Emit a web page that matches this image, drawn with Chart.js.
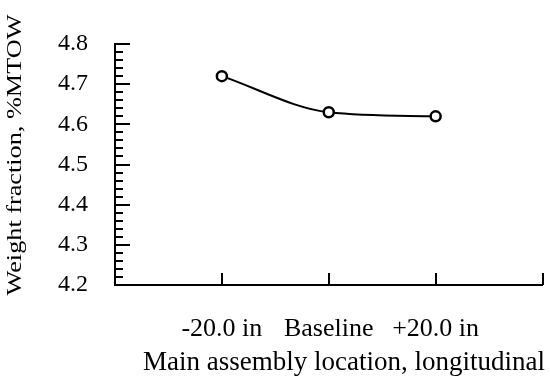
<!DOCTYPE html>
<html>
<head>
<meta charset="utf-8">
<script src="https://cdn.jsdelivr.net/npm/chart.js@4.4.1/dist/chart.umd.min.js"></script>
<style>
  html, body { margin: 0; padding: 0; background: #fff; }
  #wrap { width: 550px; height: 379px; }
</style>
</head>
<body>
<div id="wrap"><canvas id="chart" width="550" height="379"></canvas></div>
<script>
// Category slots: an empty slot at each end keeps the markers off the axis ends
const categories = ['', '-20.0 in', 'Baseline', '+20.0 in', ''];
const weightFraction = [null, 4.72, 4.63, 4.62, null];

const yMin = 4.2;
const yMax = 4.8;
const yMajorStep = 0.1;
const yMinorStep = 0.02;

const xTitle = 'Main assembly location, longitudinal';
const yTitle = 'Weight fraction, %MTOW';

const SERIF = "'Liberation Serif', 'Times New Roman', serif";

// Inward-pointing tick marks and the two axis titles
const axisDecor = {
  id: 'axisDecor',
  afterDraw(chart) {
    const { ctx, scales: { x, y }, chartArea } = chart;
    ctx.save();
    ctx.strokeStyle = '#000';
    ctx.lineWidth = 2;
    ctx.beginPath();
    const nMinor = Math.round((yMax - yMin) / yMinorStep);
    const perMajor = Math.round(yMajorStep / yMinorStep);
    for (let k = 1; k <= nMinor; k++) {
      const py = Math.round(y.getPixelForValue(yMin + k * yMinorStep));
      const len = (k % perMajor === 0) ? 15 : 8;
      ctx.moveTo(chartArea.left, py);
      ctx.lineTo(chartArea.left + len, py);
    }
    for (let i = 1; i < categories.length; i++) {
      const px = Math.round(x.getPixelForValue(i));
      ctx.moveTo(px, chartArea.bottom);
      ctx.lineTo(px, chartArea.bottom - 12);
    }
    ctx.stroke();

    ctx.fillStyle = '#000';
    // horizontal axis title
    ctx.font = '27px ' + SERIF;
    ctx.textAlign = 'center';
    ctx.textBaseline = 'alphabetic';
    ctx.fillText(xTitle, 344, 370);

    // vertical axis title, reading bottom to top
    ctx.translate(21, 155);
    ctx.rotate(-Math.PI / 2);
    ctx.scale(1.25, 1);
    ctx.font = '21px ' + SERIF;
    ctx.fillText(yTitle, 0, 0);
    ctx.restore();
  }
};

new Chart(document.getElementById('chart'), {
  type: 'line',
  data: {
    labels: categories,
    datasets: [{
      data: weightFraction,
      borderColor: '#000',
      borderWidth: 2,
      cubicInterpolationMode: 'monotone',
      pointRadius: 5,
      pointHoverRadius: 5,
      pointBorderWidth: 2.5,
      pointBorderColor: '#000',
      pointBackgroundColor: '#fff',
      clip: false
    }]
  },
  options: {
    responsive: false,
    devicePixelRatio: 1,
    animation: false,
    events: [],
    layout: { padding: { top: 44, right: 4, left: 0, bottom: 0 } },
    plugins: { legend: { display: false }, tooltip: { enabled: false } },
    scales: {
      x: {
        type: 'category',
        offset: false,
        grid: { display: false, drawTicks: false },
        border: { display: true, color: '#000', width: 2 },
        ticks: {
          autoSkip: false,
          maxRotation: 0,
          color: '#000',
          padding: 29,
          font: { family: SERIF, size: 26 }
        },
        afterFit(s) {
          s.height = 94;
          s.paddingLeft = 0;
          s.paddingRight = 0;
        }
      },
      y: {
        min: yMin,
        max: yMax,
        grid: { display: false, drawTicks: false },
        border: { display: true, color: '#000', width: 2 },
        ticks: {
          stepSize: yMajorStep,
          color: '#000',
          padding: 27,
          font: { family: SERIF, size: 24 },
          callback: v => Number(v).toFixed(1)
        },
        afterFit(s) { s.width = 115; }
      }
    }
  },
  plugins: [axisDecor]
});
</script>
</body>
</html>
